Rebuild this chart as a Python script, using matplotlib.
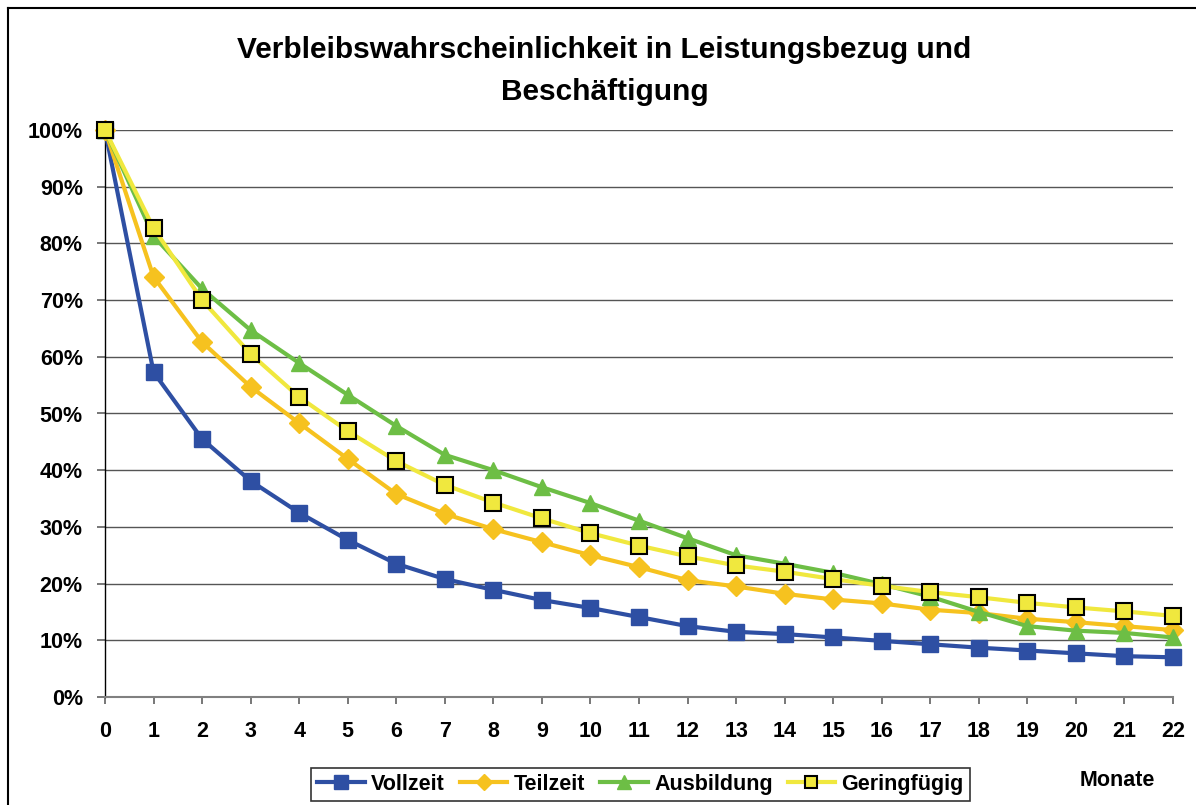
import matplotlib
matplotlib.use("Agg")
import matplotlib.pyplot as plt
from matplotlib.lines import Line2D
from matplotlib.ticker import FuncFormatter

months = list(range(23))
vollzeit = [100, 57.3, 45.5, 38.1, 32.5, 27.7, 23.5, 20.8, 18.9, 17.1, 15.7, 14.1,
            12.5, 11.5, 11.1, 10.5, 9.9, 9.3, 8.7, 8.2, 7.7, 7.2, 7.0]
teilzeit = [100, 74.1, 62.6, 54.7, 48.3, 42.0, 35.8, 32.3, 29.6, 27.3, 25.0, 22.9,
            20.6, 19.5, 18.2, 17.2, 16.5, 15.4, 14.8, 13.8, 13.2, 12.5, 11.8]
ausbildung = [100, 81.3, 72.0, 64.7, 58.9, 53.3, 47.8, 42.7, 40.0, 37.0, 34.2, 31.1,
              28.0, 25.0, 23.5, 21.9, 19.9, 17.7, 15.0, 12.5, 11.7, 11.3, 10.5]
geringfuegig = [100, 82.7, 70.0, 60.5, 52.9, 46.9, 41.6, 37.4, 34.3, 31.5, 28.9, 26.7,
                24.8, 23.2, 22.1, 20.8, 19.6, 18.5, 17.6, 16.6, 15.8, 15.1, 14.3]
series_names = ["Vollzeit", "Teilzeit", "Ausbildung", "Geringfügig"]
title_lines = ["Verbleibswahrscheinlichkeit in Leistungsbezug und", "Beschäftigung"]
x_label = "Monate"

plt.rcParams['font.family'] = ['Liberation Sans', 'DejaVu Sans']

W, H = 1196, 805
fig = plt.figure(figsize=(W / 100, H / 100), dpi=100)
fig.patch.set_facecolor("white")

# outer border (only left and top visible in the reference)
fig.add_artist(Line2D([8 / W, 8 / W], [0, 1 - 8 / H], transform=fig.transFigure,
                      color="black", lw=1.5))
fig.add_artist(Line2D([8 / W, 1], [1 - 8 / H, 1 - 8 / H], transform=fig.transFigure,
                      color="black", lw=1.5))

ax = fig.add_axes([105 / W, 1 - 697 / H, (1173 - 105) / W, (697 - 130) / H])

ax.plot(months, vollzeit, color="#2E4FA3", lw=3, marker="s", ms=12,
        mec="#2E4FA3", mfc="#2E4FA3", clip_on=False, zorder=3, label=series_names[0])
ax.plot(months, teilzeit, color="#F6C21F", lw=3, marker="D", ms=10,
        mec="#F6C21F", mfc="#F6C21F", clip_on=False, zorder=4, label=series_names[1])
ax.plot(months, ausbildung, color="#6DBE45", lw=3, marker="^", ms=12,
        mec="#6DBE45", mfc="#6DBE45", clip_on=False, zorder=5, label=series_names[2])
ax.plot(months, geringfuegig, color="#F0E83E", lw=3, marker="s", ms=11,
        mec="black", mfc="#F0E83E", mew=1.5, clip_on=False, zorder=6, label=series_names[3])

ax.set_xlim(0, 22)
ax.set_ylim(0, 100)
ax.set_xticks(months)
ax.set_yticks(range(0, 101, 10))
ax.yaxis.set_major_formatter(FuncFormatter(lambda v, p: f"{int(v)}%"))
ax.grid(axis="y", color="#555555", lw=1)
ax.set_axisbelow(True)

for s in ["top", "right"]:
    ax.spines[s].set_visible(False)
ax.spines["left"].set_color("black")
ax.spines["left"].set_linewidth(1)
ax.spines["bottom"].set_color("#808080")
ax.spines["bottom"].set_linewidth(1.5)

ax.tick_params(axis="x", direction="out", length=5, width=1.2, color="#606060",
               pad=12, labelsize=15.5)
ax.tick_params(axis="y", direction="out", length=6, width=1.2, color="#606060",
               pad=10, labelsize=15.5)
for lab in ax.get_xticklabels() + ax.get_yticklabels():
    lab.set_fontweight("bold")

fig.text(604 / W, 1 - 50 / H, title_lines[0], ha="center", va="center",
         fontsize=21.5, fontweight="bold")
fig.text(605 / W, 1 - 92 / H, title_lines[1], ha="center", va="center",
         fontsize=21.5, fontweight="bold")

fig.text(1117 / W, 1 - 780 / H, x_label, ha="center", va="center",
         fontsize=15.5, fontweight="bold")

leg = fig.legend(loc="center", bbox_to_anchor=((313 + 968) / 2 / W, 1 - 784.5 / H),
                 ncol=4, frameon=True, fancybox=False, edgecolor="black",
                 prop={"weight": "bold", "size": 15.5}, handlelength=2.2,
                 handletextpad=0.3, columnspacing=0.7, borderpad=0.3,
                 markerscale=0.8)
leg.get_frame().set_linewidth(1.2)

fig.savefig("out.png", dpi=100, facecolor="white")
